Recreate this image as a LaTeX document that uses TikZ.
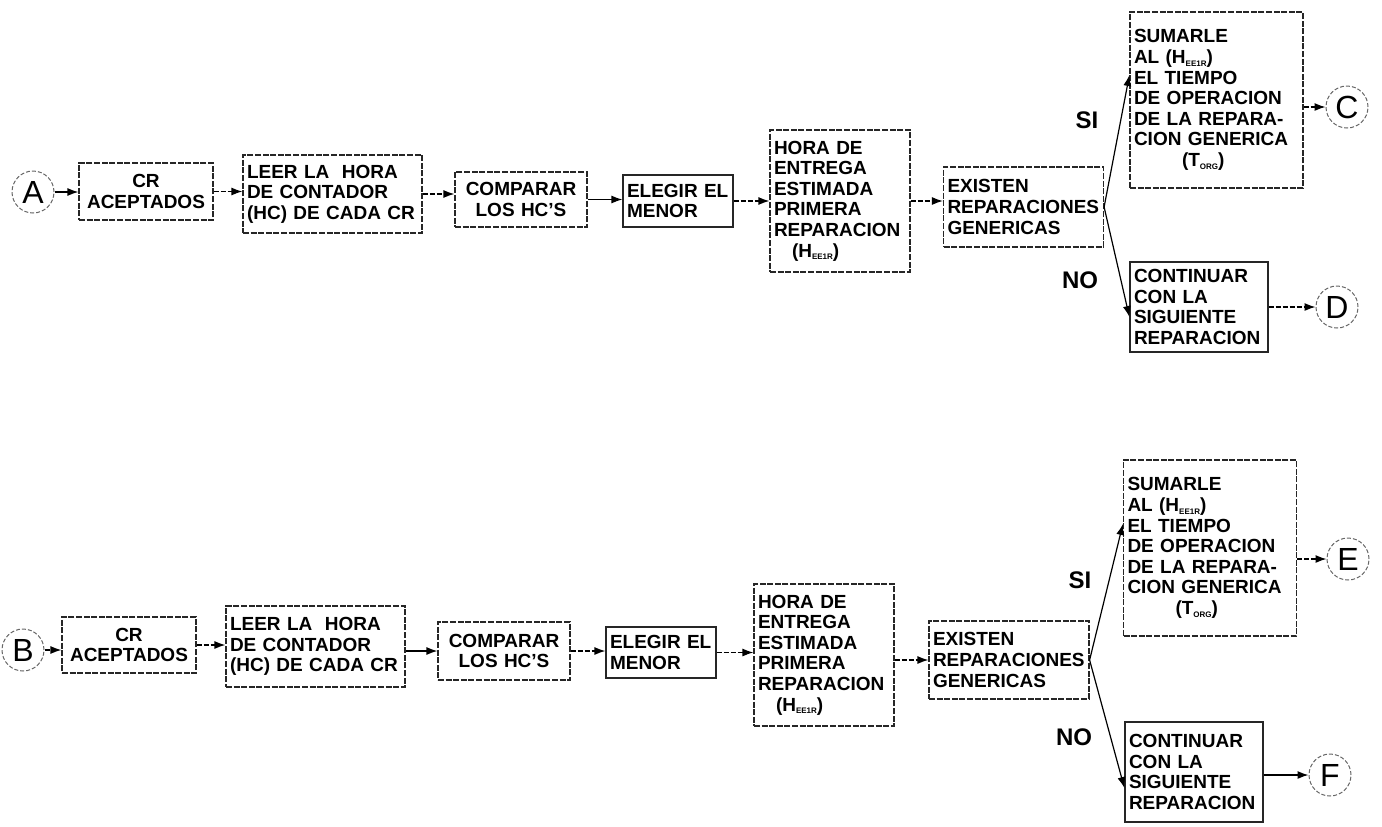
\documentclass[tikz,border=0pt]{standalone}
\usepackage{fontspec}
\setmainfont{Liberation Sans}
\usetikzlibrary{arrows.meta,calc}
\newcommand{\bxf}{\bfseries\fontsize{9.5}{10.3}\selectfont}
\newcommand{\circf}{\fontsize{16}{16}\selectfont}
\newcommand{\lblf}{\bfseries\fontsize{12}{12}\selectfont}
\newcommand{\mysub}[1]{\raisebox{-1.4pt}{\fontsize{4}{4}\selectfont #1}}
\tikzset{
  bx/.style 2 args={draw=black!85, line width=0.6pt, dash pattern=on 3pt off 0.8pt,
    inner xsep=2pt, inner ysep=0pt, text width=#1, minimum height=#2,
    align=left, font=\bxf},
  bxc/.style 2 args={bx={#1}{#2}, align=center},
  solidbx/.style={solid},
  circ/.style={circle, draw=black!60, line width=0.5pt, dash pattern=on 2pt off 1pt,
    minimum size=21pt, inner sep=0pt, font=\circf},
  arr/.style={-{Latex[length=5.5pt,width=4pt]}, line width=0.6pt},
  darr/.style={arr, dash pattern=on 2.5pt off 1pt},
  lbl/.style={font=\lblf},
}
\begin{document}
\begin{tikzpicture}[x=0.5pt,y=-0.5pt]
\useasboundingbox (0,0) rectangle (1382,826);
% ---------- top row ----------
\node[circ] (A) at (33,192) {A};
\node[bxc={63pt}{28.5pt}] (cr1) at (146,191.5) {CR\\ACEPTADOS};
\node[bx={85.5pt}{39pt}] (leer1) at (332.5,194) {LEER LA \ HORA\\DE CONTADOR\\(HC) DE CADA CR};
\node[bxc={62pt}{27.5pt}] (comp1) at (521,199.5) {COMPARAR\\LOS HC'S};
\node[bx={51pt}{26pt}, solidbx] (eleg1) at (678,201) {ELEGIR EL\\MENOR};
\node[bx={66pt}{71pt}] (hora1) at (840,201) {HORA DE\\ENTREGA\\ESTIMADA\\PRIMERA\\REPARACION\\\hspace*{9pt}(H\mysub{EE1R})};
\node[bx={76pt}{40pt}] (exis1) at (1023.5,207) {EXISTEN\\REPARACIONES\\GENERICAS};
\node[bx={82.5pt}{88pt}] (sum1) at (1216.5,100) {SUMARLE\\AL (H\mysub{EE1R})\\EL TIEMPO\\DE OPERACION\\DE LA REPARA-\\CION GENERICA\\\hspace*{24pt}(T\mysub{ORG})};
\node[bx={65pt}{45pt}, solidbx] (cont1) at (1199,307) {CONTINUAR\\CON LA\\SIGUIENTE\\REPARACION};
\node[circ] (C) at (1347,107) {C};
\node[circ] (D) at (1337,307) {D};
\node[lbl] (si1) at (1087,120) {SI};
\node[lbl] (no1) at (1080,280) {NO};
\draw[arr] (A.east) -- (A.east -| cr1.west);
\draw[darr] (cr1.east) -- (cr1.east -| leer1.west);
\draw[darr] (leer1.east) -- (leer1.east -| comp1.west);
\draw[arr] (comp1.east) -- (comp1.east -| eleg1.west);
\draw[darr] (eleg1.east) -- (eleg1.east -| hora1.west);
\draw[darr] (hora1.east) -- (hora1.east -| exis1.west);
\draw[arr] (exis1.east) -- ([yshift=12.5pt]sum1.west);
\draw[arr] (exis1.east) -- ([yshift=-5pt]cont1.west);
\draw[darr] (sum1.east |- C) -- (C.west);
\draw[darr] (cont1.east |- D) -- (D.west);
% ---------- bottom row ----------
\node[circ] (B) at (23,650) {B};
\node[bxc={63pt}{28pt}] (cr2) at (129,645) {CR\\ACEPTADOS};
\node[bx={85.5pt}{40.5pt}] (leer2) at (315.5,646.5) {LEER LA \ HORA\\DE CONTADOR\\(HC) DE CADA CR};
\node[bxc={62pt}{29pt}] (comp2) at (504,651) {COMPARAR\\LOS HC'S};
\node[bx={51pt}{25.5pt}, solidbx] (eleg2) at (661,652.5) {ELEGIR EL\\MENOR};
\node[bx={66pt}{71pt}] (hora2) at (824,655) {HORA DE\\ENTREGA\\ESTIMADA\\PRIMERA\\REPARACION\\\hspace*{9pt}(H\mysub{EE1R})};
\node[bx={76pt}{39pt}] (exis2) at (1009,660) {EXISTEN\\REPARACIONES\\GENERICAS};
\node[bx={82.5pt}{88pt}] (sum2) at (1210,548) {SUMARLE\\AL (H\mysub{EE1R})\\EL TIEMPO\\DE OPERACION\\DE LA REPARA-\\CION GENERICA\\\hspace*{24pt}(T\mysub{ORG})};
\node[bx={65pt}{50pt}, solidbx] (cont2) at (1194,772) {CONTINUAR\\CON LA\\SIGUIENTE\\REPARACION};
\node[circ] (E) at (1348,559) {E};
\node[circ] (F) at (1330,775) {F};
\node[lbl] (si2) at (1080,580) {SI};
\node[lbl] (no2) at (1074,737) {NO};
\draw[darr] (B.east) -- (B.east -| cr2.west);
\draw[darr] (cr2.east) -- (cr2.east -| leer2.west);
\draw[arr] (leer2.east |- comp2.west) -- (comp2.west);
\draw[darr] (comp2.east) -- (comp2.east -| eleg2.west);
\draw[darr] (eleg2.east) -- (eleg2.east -| hora2.west);
\draw[darr] (hora2.east |- exis2.west) -- (exis2.west);
\draw[arr] (exis2.east) -- ([yshift=12pt]sum2.west);
\draw[arr] (exis2.east) -- ([yshift=-8pt]cont2.west);
\draw[darr] (sum2.east |- E) -- (E.west);
\draw[arr] (cont2.east |- F) -- (F.west);
\end{tikzpicture}
\end{document}
